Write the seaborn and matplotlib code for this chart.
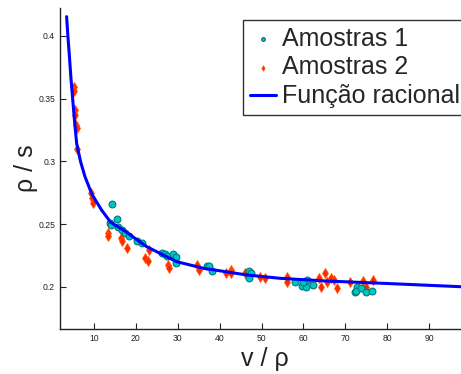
import matplotlib
matplotlib.use("Agg")
import matplotlib.pyplot as plt
import seaborn as sns

sns.set_style("ticks")
plt.rcParams["font.family"] = ["Liberation Sans", "DejaVu Sans"]

# Amostras 1 (cyan circles)
s1_x = [14.4, 15.4, 13.8, 14.0, 15.8, 16.8, 17.4, 18.4, 20.3, 21.4, 26.2, 27.0, 27.5,
        28.9, 29.7, 29.6, 37.0, 37.5, 38.1, 47.1, 47.6, 47.1, 58.0, 59.6, 60.5, 60.8,
        60.0, 62.3, 72.3, 72.8, 72.5, 73.7, 74.9, 76.3]
s1_y = [0.266, 0.254, 0.251, 0.249, 0.248, 0.2454, 0.243, 0.241, 0.237, 0.2353, 0.2268,
        0.2262, 0.2247, 0.2263, 0.2241, 0.2189, 0.2165, 0.2167, 0.213, 0.213, 0.211,
        0.207, 0.2037, 0.201, 0.1997, 0.2056, 0.204, 0.2016, 0.196, 0.200, 0.1965,
        0.199, 0.196, 0.1968]

# Amostras 2 (red diamonds)
s2_x = [5.2, 5.3, 5.45, 5.5, 5.8, 5.9, 6.0, 9.2, 9.6, 9.7, 13.3, 13.4, 16.4, 16.6,
        18.0, 22.2, 22.96, 23.1, 27.7, 27.9, 34.5, 35.1, 41.5, 42.6, 42.7, 46.0, 49.6,
        50.8, 56.1, 56.0, 63.8, 64.1, 65.1, 65.7, 66.5, 67.3, 68.1, 71.1, 74.1, 74.9,
        76.7]
s2_y = [0.359, 0.356, 0.341, 0.337, 0.329, 0.327, 0.310, 0.275, 0.271, 0.267, 0.243,
        0.241, 0.239, 0.237, 0.231, 0.223, 0.221, 0.2295, 0.2175, 0.215, 0.2175,
        0.2135, 0.211, 0.2135, 0.211, 0.211, 0.2077, 0.207, 0.2082, 0.2042, 0.207,
        0.200, 0.211, 0.204, 0.207, 0.2056, 0.199, 0.2042, 0.2048, 0.200, 0.2056]

# Funcao racional, points
fit_x = [3.48, 3.8, 4.1, 4.5, 4.92, 5.4, 5.87, 6.8, 7.85, 9.5, 11.8, 14.0, 17.0, 22.6,
         29.7, 36.1, 46.4, 54.4, 65.0, 79.0, 97.6]
fit_y = [0.4154, 0.399, 0.386, 0.367, 0.350, 0.331, 0.3145, 0.300, 0.288, 0.274,
         0.2614, 0.2515, 0.2454, 0.2321, 0.2202, 0.2149, 0.2096, 0.2069, 0.2048,
         0.2029, 0.2002]

fig = plt.figure(figsize=(4.61, 3.74), dpi=100)
ax = fig.add_axes([60 / 461, 45 / 374, 401 / 461, 321 / 374])

sns.scatterplot(x=s1_x, y=s1_y, ax=ax, marker="o", s=24, color="#00c4c4",
                edgecolor="#007a7a", linewidth=0.8, label="Amostras 1", zorder=3)
sns.scatterplot(x=s2_x, y=s2_y, ax=ax, marker="d", s=26, color="#ff2a00",
                edgecolor="#ff5a00", linewidth=0.5, label="Amostras 2", zorder=2)
sns.lineplot(x=fit_x, y=fit_y, ax=ax, color="#0000ff", linewidth=2.2,
             label="Função racional", sort=False, zorder=4)

ax.set_xlim(1.9, 97.6)
ax.set_ylim(0.1665, 0.4223)
ax.set_xticks([10, 20, 30, 40, 50, 60, 70, 80, 90])
ax.set_yticks([0.2, 0.25, 0.3, 0.35, 0.4])
ax.set_yticklabels(["0.2", "0.25", "0.3", "0.35", "0.4"])
ax.tick_params(labelsize=6.2, direction="in", length=4, width=0.8, colors="#222222")
for sp in ["top", "right"]:
    ax.spines[sp].set_visible(False)
for sp in ["left", "bottom"]:
    ax.spines[sp].set_linewidth(1.0)
    ax.spines[sp].set_color("#222222")

ax.set_xlabel("v / ρ", fontsize=18, color="#222222")
ax.set_ylabel("ρ / s", fontsize=18, color="#222222")
ax.xaxis.set_label_coords((265 - 60) / 401, -18 / 321)
ax.yaxis.set_label_coords(-22 / 401, (329 - 168) / 321)

leg = ax.legend(loc="upper left", bbox_to_anchor=(243 / 461, 1 - 20 / 374),
                bbox_transform=fig.transFigure, fontsize=18, frameon=True,
                fancybox=False, borderpad=0.26, labelspacing=0.2,
                handlelength=1.05, handletextpad=0.24, borderaxespad=0,
                markerscale=0.55)
leg.get_frame().set_edgecolor("#333333")
leg.get_frame().set_linewidth(1.0)
leg.get_frame().set_alpha(1)

fig.savefig("out.png", dpi=100)
